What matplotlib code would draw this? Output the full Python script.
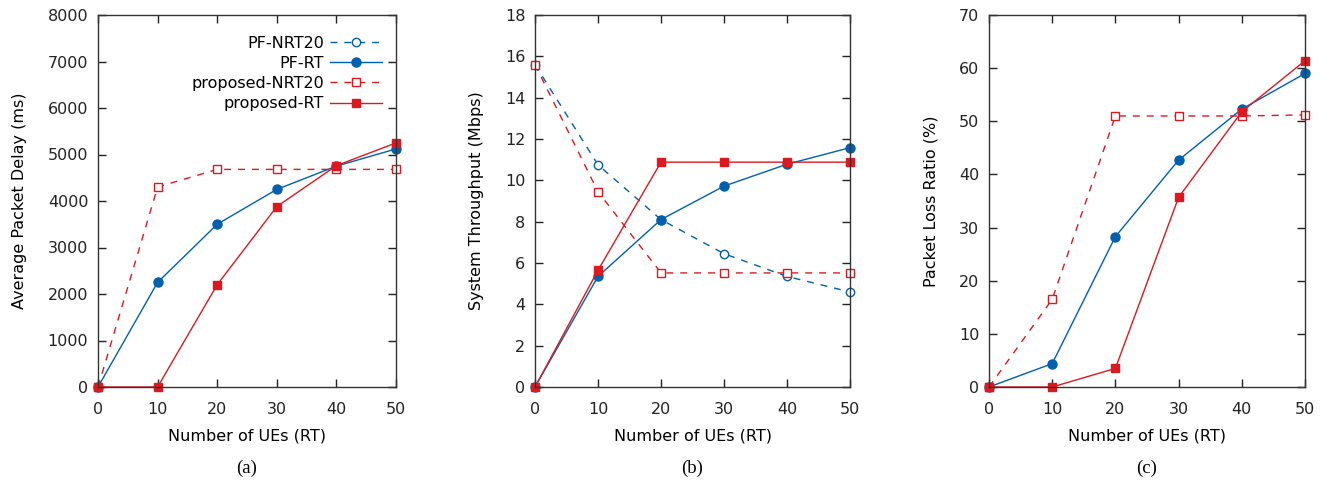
import matplotlib
matplotlib.use('Agg')
import matplotlib.pyplot as plt

# number of RT UEs
ues = [0, 10, 20, 30, 40, 50]

# (a) average packet delay (ms) -- PF-NRT20 hidden under proposed-NRT20
delay_pf_rt = [0, 2250, 3500, 4250, 4750, 5120]
delay_prop_nrt = [0, 4300, 4680, 4680, 4680, 4680]
delay_prop_rt = [0, 0, 2200, 3880, 4760, 5250]

# (b) system throughput (Mbps)
thr_pf_nrt = [15.6, 10.75, 8.1, 6.45, 5.35, 4.6]
thr_pf_rt = [0, 5.35, 8.1, 9.72, 10.78, 11.58]
thr_prop_nrt = [15.6, 9.45, 5.52, 5.52, 5.52, 5.52]
thr_prop_rt = [0, 5.65, 10.88, 10.88, 10.88, 10.88]

# (c) packet loss ratio (%)
loss_pf_rt = [0, 4.4, 28.3, 42.7, 52.3, 59]
loss_prop_nrt = [0, 16.5, 51, 51, 51, 51.2]
loss_prop_rt = [0, 0, 3.5, 35.7, 51.8, 61.4]

BLUE = '#0060ad'
RED = '#dd181f'
FS = 11.5

fig = plt.figure(figsize=(13.27, 4.84), dpi=100)
boxes = [(98, 298), (535, 315), (989, 316)]
W, H = 1327, 484
bottom = 1 - 387 / H
height = (387 - 15) / H


def draw(ax, pf_nrt, pf_rt, prop_nrt, prop_rt):
    if pf_nrt is None:
        # only a legend handle, the curve is not visible in the figure
        ax.plot([], [], color=BLUE, ls=(0, (5, 5)), lw=1, marker='o', ms=6,
                mfc='white', mec=BLUE, label='PF-NRT20')
    else:
        ax.plot(ues, pf_nrt, color=BLUE, ls=(0, (5, 5)), lw=1, marker='o', ms=6,
                mfc='white', mec=BLUE, label='PF-NRT20')
    ax.plot(ues, pf_rt, color=BLUE, lw=1, marker='o', ms=6.5, label='PF-RT')
    ax.plot(ues, prop_nrt, color=RED, ls=(0, (5, 5)), lw=1, marker='s', ms=6,
            mfc='white', mec=RED, label='proposed-NRT20')
    ax.plot(ues, prop_rt, color=RED, lw=1, marker='s', ms=6, label='proposed-RT')
    ax.set_xlim(0, 50)
    ax.set_xticks(ues)
    ax.tick_params(direction='in', top=True, right=True, labelsize=FS,
                   length=6, width=1, colors='#222222', pad=7)
    ax.tick_params(axis='x', pad=10.5)
    for s in ax.spines.values():
        s.set_color('#333333')
        s.set_linewidth(1)
    ax.set_xlabel('Number of UEs (RT)', fontsize=FS, labelpad=8.5)
    for t in ax.lines:
        t.set_clip_on(False)


axes = []
for left, width in boxes:
    axes.append(fig.add_axes([left / W, bottom, width / W, height]))

draw(axes[0], None, delay_pf_rt, delay_prop_nrt, delay_prop_rt)
axes[0].set_ylim(0, 8000)
axes[0].set_yticks(range(0, 8001, 1000))
axes[0].set_ylabel('Average Packet Delay (ms)', fontsize=FS, labelpad=15)
axes[0].legend(loc='upper right', bbox_to_anchor=(0.973, 0.962), frameon=False,
               markerfirst=False, fontsize=FS, handlelength=3.2,
               handletextpad=0.4, labelspacing=0.33, borderaxespad=0)

draw(axes[1], thr_pf_nrt, thr_pf_rt, thr_prop_nrt, thr_prop_rt)
axes[1].set_ylim(0, 18)
axes[1].set_yticks(range(0, 19, 2))
axes[1].set_ylabel('System Throughput (Mbps)', fontsize=FS, labelpad=15)

draw(axes[2], None, loss_pf_rt, loss_prop_nrt, loss_prop_rt)
axes[2].set_ylim(0, 70)
axes[2].set_yticks(range(0, 71, 10))
axes[2].set_ylabel('Packet Loss Ratio (%)', fontsize=FS, labelpad=15)

for (left, width), cap in zip(boxes, ['(a)', '(b)', '(c)']):
    fig.text((left + width / 2) / W, 1 - 468 / H, cap, ha='center', va='center',
             fontsize=13.5, family='Liberation Serif')

fig.savefig('out.png', dpi=100)
